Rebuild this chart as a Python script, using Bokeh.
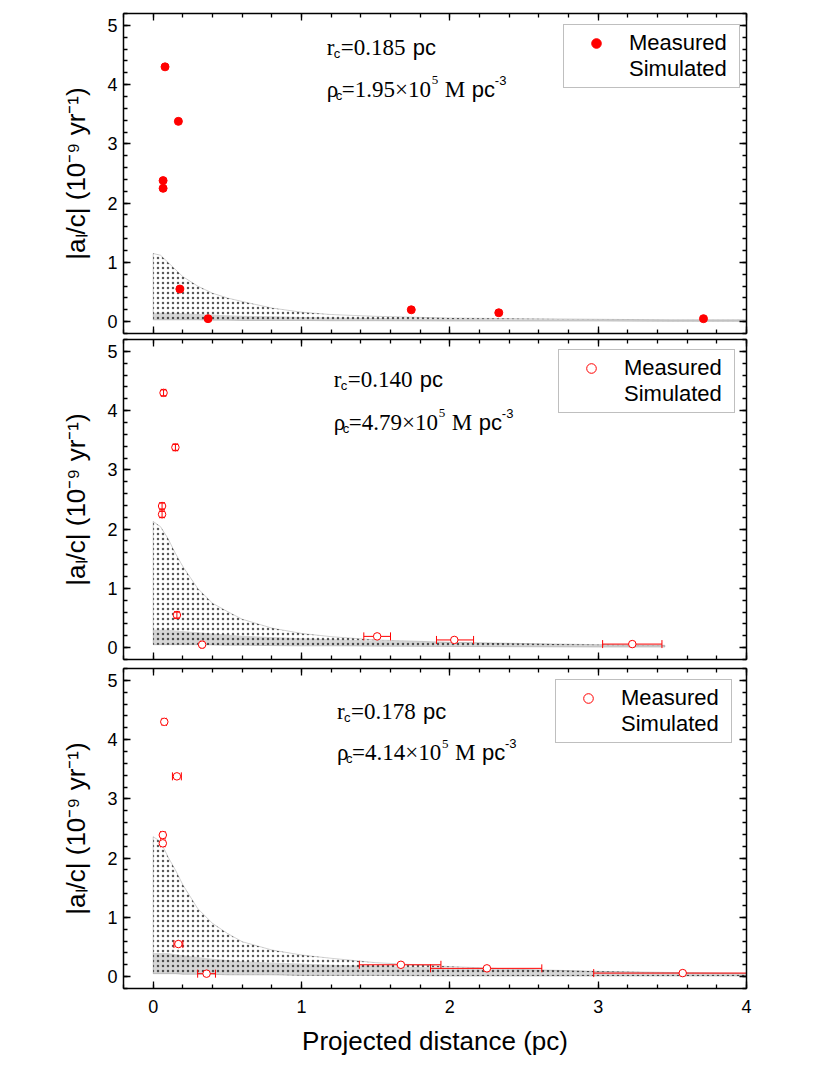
import math
from bokeh.plotting import figure
from bokeh.models import (Range1d, LinearAxis, SingleIntervalTicker, CustomJSTickFormatter,
                          Label, Legend, LegendItem, ColumnDataSource)
from bokeh.layouts import column
from bokeh.embed import file_html
from bokeh.resources import INLINE

# ---------------- data ----------------
# panel annotations
rc_text = ["0.185", "0.140", "0.178"]
rho_text = ["1.95", "4.79", "4.14"]

# measured accelerations, panel 1 (filled)
m1_x = [0.08, 0.17, 0.067, 0.067, 0.18, 0.37, 1.74, 2.33, 3.71]
m1_y = [4.30, 3.38, 2.38, 2.25, 0.55, 0.05, 0.20, 0.15, 0.05]

# panel 2 (open, with errors)
m2_x = [0.07, 0.15, 0.06, 0.06, 0.16, 0.33, 1.51, 2.03, 3.23]
m2_y = [4.30, 3.38, 2.39, 2.25, 0.55, 0.05, 0.19, 0.13, 0.06]
m2_xlo = [0.055, 0.135, 0.045, 0.045, 0.145, 0.32, 1.42, 1.91, 3.03]
m2_xhi = [0.085, 0.165, 0.075, 0.075, 0.175, 0.34, 1.60, 2.16, 3.43]
m2_yerr = [0.05, 0.05, 0.05, 0.05, 0.05, 0.0, 0.0, 0.0, 0.0]

# panel 3 (open, with errors)
m3_x = [0.075, 0.16, 0.065, 0.065, 0.17, 0.36, 1.67, 2.25, 3.57]
m3_y = [4.30, 3.38, 2.39, 2.25, 0.55, 0.05, 0.20, 0.14, 0.06]
m3_xlo = [0.06, 0.13, 0.05, 0.05, 0.14, 0.30, 1.39, 1.87, 2.97]
m3_xhi = [0.09, 0.19, 0.08, 0.08, 0.20, 0.42, 1.94, 2.62, 4.17]
m3_yerr = [0.0, 0.0, 0.0, 0.0, 0.0, 0.0, 0.0, 0.0, 0.0]

# simulated clouds: upper envelope, top of the dense lower band, lower envelope
s1_x = [0.00, 0.05, 0.10, 0.15, 0.20, 0.30, 0.40, 0.50, 0.60, 0.80, 1.00, 1.20, 1.50, 2.00, 2.50, 3.00, 3.50, 4.00]
s1_hi = [1.15, 1.12, 1.00, 0.88, 0.76, 0.60, 0.48, 0.40, 0.34, 0.23, 0.16, 0.12, 0.09, 0.06, 0.05, 0.04, 0.03, 0.03]
s1_mid = [0.15, 0.15, 0.15, 0.15, 0.14, 0.13, 0.12, 0.11, 0.10, 0.09, 0.08, 0.07, 0.06, 0.05, 0.04, 0.035, 0.03, 0.03]
s1_lo = [0.03, 0.03, 0.03, 0.03, 0.03, 0.03, 0.025, 0.025, 0.02, 0.02, 0.02, 0.015, 0.015, 0.01, 0.01, 0.01, 0.005, 0.005]

s2_x = [0.00, 0.05, 0.10, 0.15, 0.20, 0.30, 0.40, 0.50, 0.60, 0.80, 1.00, 1.20, 1.50, 2.00, 2.50, 3.00, 3.45]
s2_hi = [2.13, 2.04, 1.84, 1.59, 1.37, 1.00, 0.75, 0.61, 0.48, 0.33, 0.24, 0.185, 0.13, 0.09, 0.07, 0.05, 0.04]
s2_mid = [0.30, 0.30, 0.30, 0.29, 0.28, 0.26, 0.24, 0.22, 0.20, 0.18, 0.16, 0.14, 0.12, 0.09, 0.07, 0.05, 0.04]
s2_lo = [0.05, 0.05, 0.05, 0.05, 0.05, 0.05, 0.045, 0.04, 0.04, 0.035, 0.03, 0.03, 0.025, 0.02, 0.015, 0.01, 0.01]

s3_x = [0.00, 0.05, 0.10, 0.15, 0.20, 0.30, 0.40, 0.50, 0.60, 0.80, 1.00, 1.20, 1.50, 2.00, 2.50, 3.00, 3.50, 4.00]
s3_hi = [2.36, 2.28, 2.02, 1.80, 1.55, 1.15, 0.90, 0.73, 0.59, 0.45, 0.365, 0.31, 0.236, 0.17, 0.12, 0.09, 0.07, 0.056]
s3_mid = [0.40, 0.40, 0.40, 0.38, 0.36, 0.33, 0.30, 0.28, 0.26, 0.24, 0.22, 0.20, 0.18, 0.15, 0.12, 0.09, 0.07, 0.056]
s3_lo = [0.05, 0.05, 0.05, 0.05, 0.04, 0.04, 0.04, 0.03, 0.03, 0.03, 0.02, 0.02, 0.02, 0.01, 0.01, 0.01, 0.01, 0.01]

x_title = "Projected distance (pc)"
y_title = "|aₗ/c| (10⁻⁹ yr⁻¹)"

SANS = "Liberation Sans"
SERIF = "Liberation Serif"
RED = "#ff0000"


def style_axis(ax, show_labels):
    ax.ticker = SingleIntervalTicker(interval=1, num_minor_ticks=5)
    ax.major_tick_in = 7
    ax.major_tick_out = 0
    ax.minor_tick_in = 4
    ax.minor_tick_out = 0
    ax.axis_line_width = 1.5
    ax.major_tick_line_width = 1.3
    ax.minor_tick_line_width = 1.3
    ax.axis_line_color = "black"
    ax.major_tick_line_color = "black"
    ax.minor_tick_line_color = "black"
    ax.major_label_text_font = SANS
    ax.major_label_text_font_size = "18px"
    ax.major_label_text_color = "black"
    if not show_labels:
        ax.formatter = CustomJSTickFormatter(code="return ''")
        ax.major_label_standoff = 0


def make_panel(top, bottom, xlabels):
    p = figure(frame_width=623, frame_height=320,
               x_range=Range1d(-0.2, 4.0), y_range=Range1d(-0.2, 5.2),
               output_backend="svg", toolbar_location=None,
               x_axis_location=None, y_axis_location=None,
               min_border_left=123, min_border_right=12,
               min_border_top=top, min_border_bottom=bottom,
               background_fill_color="white", border_fill_color="white")
    p.outline_line_color = None
    p.xgrid.visible = False
    p.ygrid.visible = False
    left = LinearAxis()
    style_axis(left, True)
    left.major_label_standoff = 6
    left.axis_label = y_title
    left.axis_label_text_font = SANS
    left.axis_label_text_font_size = "26px"
    left.axis_label_text_font_style = "normal"
    left.axis_label_text_color = "black"
    left.axis_label_standoff = 13
    right = LinearAxis()
    style_axis(right, False)
    above = LinearAxis()
    style_axis(above, False)
    below = LinearAxis()
    style_axis(below, xlabels)
    if xlabels:
        below.major_label_standoff = 11
        below.axis_label = x_title
        below.axis_label_text_font = SANS
        below.axis_label_text_font_size = "26px"
        below.axis_label_text_font_style = "normal"
        below.axis_label_text_color = "black"
        below.axis_label_standoff = 10
    p.add_layout(left, "left")
    p.add_layout(right, "right")
    p.add_layout(above, "above")
    p.add_layout(below, "below")
    return p


def add_cloud(p, sx, shi, smid, slo):
    xs = list(sx) + list(sx)[::-1]
    ys2 = list(smid) + list(slo)[::-1]
    p.patch(xs, ys2, fill_color="black", fill_alpha=0.16, line_color=None)
    ys = list(shi) + list(slo)[::-1]
    p.patch(xs, ys, fill_color=None, line_color="black", line_alpha=0.3, line_width=0.6,
            hatch_pattern="dot", hatch_scale=5, hatch_weight=0.5,
            hatch_color="black", hatch_alpha=0.65)
    return p.scatter(x=[], y=[], marker="circle", size=2, color="#666666")


def add_annot(p, ax_, y1, y2, rc, rho):
    pieces1 = [("r", 0, 0, SERIF, 23), ("c", 7, -6, SANS, 13),
               ("=" + rc, 14, 0, SERIF, 23), ("pc", 86, 0, SANS, 22)]
    pieces2 = [("ρ", 0, 0, SERIF, 23), ("c", 9, -6, SANS, 13),
               ("=" + rho + "×10", 15, 0, SERIF, 23), ("5", 105, 9, SERIF, 13),
               ("M", 118, 0, SERIF, 23), ("pc", 145, 0, SANS, 22), ("-3", 168, 9, SANS, 13)]
    for yy, pieces in ((y1, pieces1), (y2, pieces2)):
        for t, dx, dy, f, s in pieces:
            p.add_layout(Label(x=ax_, y=yy, x_offset=dx, y_offset=dy, text=t,
                               text_font=f, text_font_size=f"{s}px",
                               text_baseline="alphabetic", text_color="black"))


def add_legend(p, r_meas, r_sim, loc):
    lg = Legend(items=[LegendItem(label="Measured", renderers=[r_meas]),
                       LegendItem(label="Simulated", renderers=[r_sim])],
                location=loc, margin=0, padding=5, spacing=0,
                glyph_width=54, glyph_height=24, label_height=24, label_width=105,
                label_standoff=6, label_text_font=SANS, label_text_font_size="22px",
                label_text_color="black", border_line_color="#808080",
                border_line_width=1, background_fill_color="white",
                background_fill_alpha=1.0)
    p.add_layout(lg)


def add_errors(p, xs, ys, xlo, xhi):
    src = ColumnDataSource(dict(x=xs, y=ys, xlo=xlo, xhi=xhi))
    p.segment(x0="xlo", y0="y", x1="xhi", y1="y", source=src, line_color=RED, line_width=1)
    p.scatter(x="xlo", y="y", source=src, marker="dash", angle=math.pi / 2, size=8,
              line_color=RED, line_width=1)
    p.scatter(x="xhi", y="y", source=src, marker="dash", angle=math.pi / 2, size=8,
              line_color=RED, line_width=1)


def add_yerrors(p, xs, ys, yerr):
    idx = [i for i, e in enumerate(yerr) if e > 0]
    if not idx:
        return
    src = ColumnDataSource(dict(x=[xs[i] for i in idx],
                                ylo=[ys[i] - yerr[i] for i in idx],
                                yhi=[ys[i] + yerr[i] for i in idx]))
    p.segment(x0="x", y0="ylo", x1="x", y1="yhi", source=src, line_color=RED, line_width=1)
    p.scatter(x="x", y="ylo", source=src, marker="dash", size=5, line_color=RED, line_width=1)
    p.scatter(x="x", y="yhi", source=src, marker="dash", size=5, line_color=RED, line_width=1)


# ---------------- panel 1 ----------------
p1 = make_panel(13, 3, False)
sim1 = add_cloud(p1, s1_x, s1_hi, s1_mid, s1_lo)
meas1 = p1.scatter(x=m1_x, y=m1_y, marker="circle", size=8, fill_color=RED, line_color=RED)
add_annot(p1, 1.171, 4.62, 3.92, rc_text[0], rho_text[0])
add_legend(p1, meas1, sim1, (440, 245))

# ---------------- panel 2 ----------------
p2 = make_panel(3, 4, False)
sim2 = add_cloud(p2, s2_x, s2_hi, s2_mid, s2_lo)
add_errors(p2, m2_x, m2_y, m2_xlo, m2_xhi)
meas2 = p2.scatter(x=m2_x, y=m2_y, marker="circle", size=7.5, fill_color="white",
                   line_color=RED, line_width=1)
add_yerrors(p2, m2_x, m2_y, m2_yerr)
add_annot(p2, 1.218, 4.53, 3.80, rc_text[1], rho_text[1])
add_legend(p2, meas2, sim2, (435, 246))

# ---------------- panel 3 ----------------
p3 = make_panel(5, 72, True)
sim3 = add_cloud(p3, s3_x, s3_hi, s3_mid, s3_lo)
add_errors(p3, m3_x, m3_y, m3_xlo, m3_xhi)
meas3 = p3.scatter(x=m3_x, y=m3_y, marker="circle", size=7.5, fill_color="white",
                   line_color=RED, line_width=1)
add_yerrors(p3, m3_x, m3_y, m3_yerr)
add_annot(p3, 1.239, 4.47, 3.78, rc_text[2], rho_text[2])
add_legend(p3, meas3, sim3, (432, 245))

layout = column(p1, p2, p3)
open("out.html", "w").write(file_html(layout, INLINE))
